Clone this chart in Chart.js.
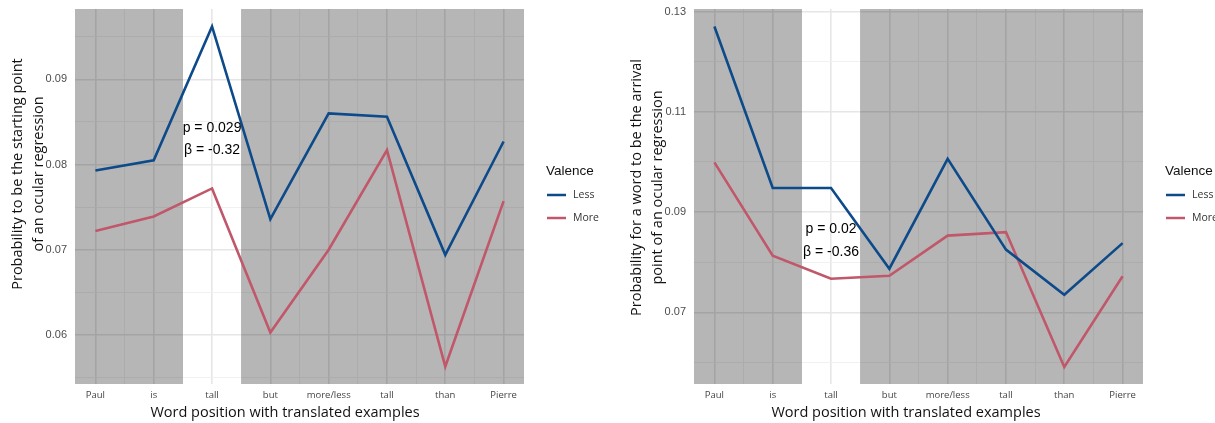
<!DOCTYPE html>
<html>
<head>
<meta charset="utf-8">
<script src="https://cdn.jsdelivr.net/npm/chart.js@4.4.1/dist/chart.umd.min.js"></script>
<style>
  html, body { margin: 0; padding: 0; background: #fff; }
  #wrap { position: relative; width: 1215px; height: 423px; }
  .panel { position: absolute; top: 0; height: 423px; }
  #p1 { left: 0; width: 607px; }
  #p2 { left: 607px; width: 608px; }
</style>
</head>
<body>
<div id="wrap">
  <div class="panel" id="p1"><canvas id="startChart" width="607" height="423"></canvas></div>
  <div class="panel" id="p2"><canvas id="arrivalChart" width="608" height="423"></canvas></div>
</div>
<script>
const words = ["Paul", "is", "tall", "but", "more/less", "tall", "than", "Pierre"];
const valence = ["Less", "More"];

// probability of being the starting point of a regression
const startLess = [0.0793, 0.0805, 0.0962, 0.0736, 0.0860, 0.0856, 0.0694, 0.0827];
const startMore = [0.0722, 0.0739, 0.0772, 0.0603, 0.0700, 0.0817, 0.0563, 0.0757];

// probability of being the arrival point of a regression
const arrivalLess = [0.1270, 0.0948, 0.0948, 0.0787, 0.1006, 0.0825, 0.0735, 0.0838];
const arrivalMore = [0.0999, 0.0813, 0.0767, 0.0773, 0.0853, 0.0860, 0.0591, 0.0772];

// y tick labels (major) and minor grid values
const startTicks = ["0.06", "0.07", "0.08", "0.09"];
const startMinor = [0.055, 0.065, 0.075, 0.085, 0.095];
const arrivalTicks = ["0.07", "0.09", "0.11", "0.13"];
const arrivalMinor = [0.06, 0.08, 0.10, 0.12];

const startStats = ["p = 0.029", "β = -0.32"];
const arrivalStats = ["p = 0.02", "β = -0.36"];

const colors = ["#0d4a8a", "#c0576a"];
const xTitle = "Word position with translated examples";

Chart.defaults.font.family = "'Open Sans', sans-serif";

// grey shading everywhere except around the critical word, plus texts and legend
const panelDecor = {
    id: "panelDecor",
    beforeDatasetsDraw(chart, args, o) {
        const { ctx, chartArea: a, scales: { x } } = chart;
        const x1 = x.getPixelForValue(o.clearFrom);
        const x2 = x.getPixelForValue(o.clearTo);
        ctx.save();
        ctx.fillStyle = "rgba(0,0,0,0.285)";
        ctx.fillRect(a.left, a.top, x1 - a.left, a.height);
        ctx.fillRect(x2, a.top, a.right - x2, a.height);
        ctx.restore();
    },
    afterDraw(chart, args, o) {
        const { ctx, scales: { x, y } } = chart;
        ctx.save();

        // stats annotation
        ctx.fillStyle = "#000";
        ctx.font = "14px 'Liberation Sans'";
        ctx.textAlign = "center";
        ctx.textBaseline = "middle";
        o.stats.forEach((t, i) => {
            ctx.fillText(t, x.getPixelForValue(o.statsX), y.getPixelForValue(o.statsY[i]));
        });

        // axis titles
        ctx.fillStyle = "#111";
        ctx.font = "14.5px 'Open Sans'";
        ctx.fillText(xTitle, o.xTitleX, 413);
        o.yTitle.forEach((t, i) => {
            ctx.save();
            ctx.translate(o.yTitleX[i], o.yTitleY);
            ctx.rotate(-Math.PI / 2);
            ctx.fillText(t, 0, 0);
            ctx.restore();
        });

        // legend
        const lx = o.legendX;
        ctx.textAlign = "left";
        ctx.fillStyle = "#111";
        ctx.font = "13.5px 'Liberation Sans'";
        ctx.fillText("Valence", lx, 171);
        ctx.font = "10.5px 'Open Sans'";
        chart.data.datasets.forEach((ds, i) => {
            const ly = 195 + i * 23;
            ctx.strokeStyle = ds.borderColor;
            ctx.lineWidth = 2.5;
            ctx.beginPath();
            ctx.moveTo(lx + 1, ly);
            ctx.lineTo(lx + 20, ly);
            ctx.stroke();
            ctx.fillStyle = "#333";
            ctx.fillText(ds.label, lx + 27, ly);
        });
        ctx.restore();
    }
};

function isMajorX(v) {
    return Math.abs(v - Math.round(v)) < 1e-6;
}

function makePanel(id, less, more, yLabels, yMinor, yMin, yMax, decor, padLeft, padRight) {
    const majorY = yLabels.map(Number);
    const isMajorY = v => majorY.some(m => Math.abs(m - v) < 1e-9);
    const xTicks = [];
    words.forEach((w, i) => {
        xTicks.push(i + 1);
        if (i < words.length - 1) xTicks.push(i + 1.5);
    });
    const yTicks = majorY.concat(yMinor).sort((a, b) => a - b);

    return new Chart(document.getElementById(id), {
        type: "line",
        data: {
            datasets: [less, more].map((vals, k) => ({
                label: valence[k],
                data: vals.map((v, i) => ({ x: i + 1, y: v })),
                borderColor: colors[k],
                backgroundColor: colors[k],
                borderWidth: 2.6,
                pointRadius: 0,
                tension: 0,
                fill: false
            }))
        },
        options: {
            responsive: false,
            animation: false,
            events: [],
            layout: { padding: { left: padLeft, right: padRight, top: 9, bottom: 0 } },
            plugins: {
                legend: { display: false },
                tooltip: { enabled: false },
                panelDecor: decor
            },
            scales: {
                x: {
                    type: "linear",
                    min: 0.65,
                    max: words.length + 0.35,
                    bounds: "data",
                    afterBuildTicks: s => { s.ticks = xTicks.map(v => ({ value: v })); },
                    afterFit: s => { s.height = 39; s.paddingLeft = 0; s.paddingRight = 0; },
                    border: { display: false },
                    grid: {
                        drawTicks: false,
                        color: c => isMajorX(c.tick.value) ? "#e6e6e6" : "#efefef",
                        lineWidth: c => isMajorX(c.tick.value) ? 1.6 : 0.9
                    },
                    ticks: {
                        autoSkip: false,
                        maxRotation: 0,
                        padding: 6,
                        color: "#444",
                        font: { size: 9.5 },
                        callback: v => isMajorX(v) ? words[Math.round(v) - 1] : ""
                    }
                },
                y: {
                    type: "linear",
                    min: yMin,
                    max: yMax,
                    bounds: "data",
                    afterBuildTicks: s => { s.ticks = yTicks.map(v => ({ value: v })); },
                    afterFit: s => { s.width = 75; s.paddingTop = 0; s.paddingBottom = 0; },
                    border: { display: false },
                    grid: {
                        drawTicks: false,
                        color: c => isMajorY(c.tick.value) ? "#e6e6e6" : "#efefef",
                        lineWidth: c => isMajorY(c.tick.value) ? 1.6 : 0.9
                    },
                    ticks: {
                        autoSkip: false,
                        padding: 8,
                        color: "#4d4d4d",
                        font: { family: "'Liberation Sans'", size: 11 },
                        callback: v => {
                            const i = majorY.findIndex(m => Math.abs(m - v) < 1e-9);
                            return i >= 0 ? yLabels[i] : "";
                        }
                    }
                }
            }
        },
        plugins: [panelDecor]
    });
}

makePanel("startChart", startLess, startMore, startTicks, startMinor, 0.05425, 0.09825, {
    clearFrom: 2.5, clearTo: 3.5,
    stats: startStats, statsX: 3, statsY: [0.0843, 0.0817],
    yTitle: ["Probability to be the starting point", "of an ocular regression"],
    yTitleX: [18, 38.5], yTitleY: 174,
    xTitleX: 285, legendX: 546
}, 0, 83);

makePanel("arrivalChart", arrivalLess, arrivalMore, arrivalTicks, arrivalMinor, 0.0557, 0.1305, {
    clearFrom: 2.5, clearTo: 3.5,
    stats: arrivalStats, statsX: 3, statsY: [0.0865, 0.0820],
    yTitle: ["Probability for a word to be the arrival", "point of an ocular regression"],
    yTitleX: [30, 51], yTitleY: 187.5,
    xTitleX: 299, legendX: 558
}, 12, 72);
</script>
</body>
</html>
